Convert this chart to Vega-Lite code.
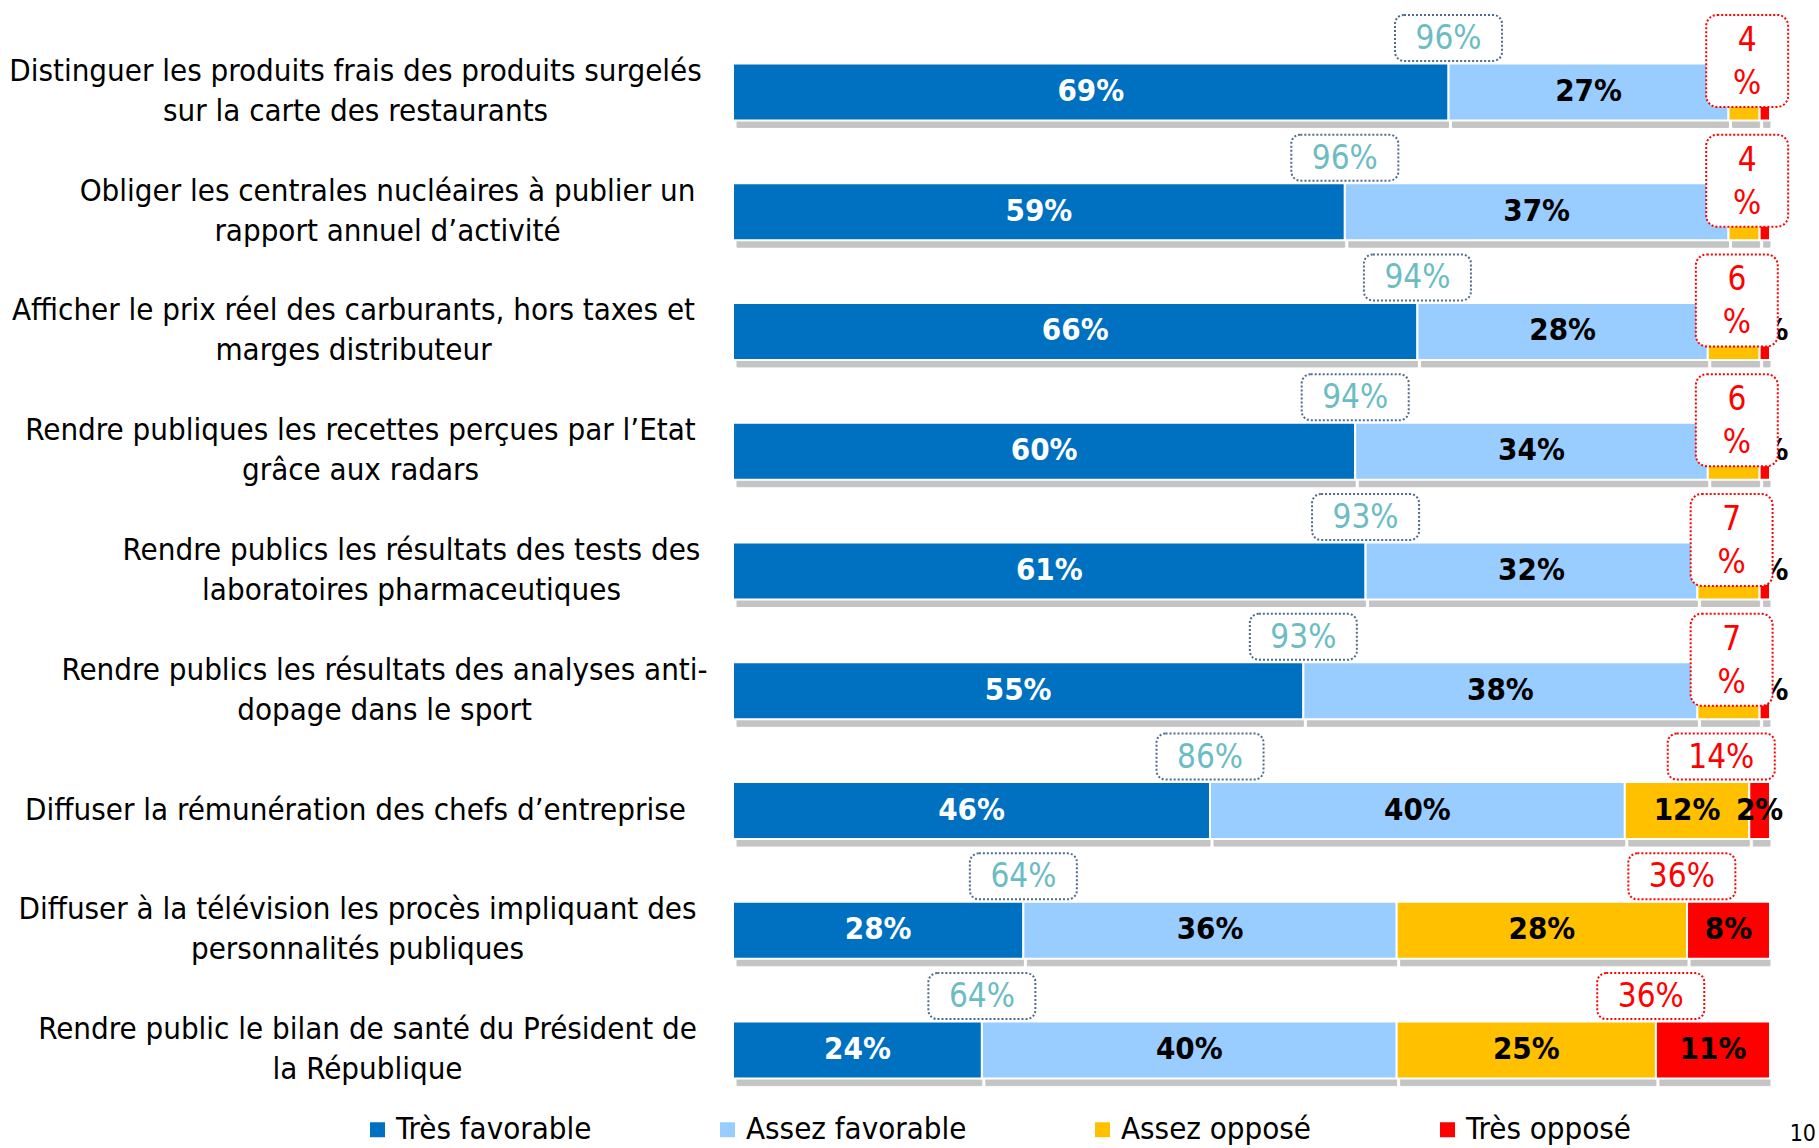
{
  "$schema": "https://vega.github.io/schema/vega-lite/v6.json",
  "autosize": {"type": "none"},
  "width": 1037,
  "height": 1078,
  "padding": {"left": 733, "top": 32, "right": 49, "bottom": 38},
  "background": "white",
  "config": {"view": {"stroke": null}, "font": "DejaVu Sans Condensed"},
  "title": {"text": "10", "orient": "bottom", "anchor": "end", "frame": "group", "fontSize": 23, "fontWeight": "normal", "color": "black", "offset": 2, "dx": 46, "dy": -24, "font": "DejaVu Sans Condensed"},
  "data": {
    "values": [
      {"q": "Distinguer les produits frais des produits surgelés|sur la carte des restaurants", "tf": 69, "af": 27, "ao": 3, "to": 1, "fav": 96, "opp": 4},
      {"q": "Obliger les centrales nucléaires à publier un|rapport annuel d’activité", "tf": 59, "af": 37, "ao": 3, "to": 1, "fav": 96, "opp": 4},
      {"q": "Afficher le prix réel des carburants, hors taxes et|marges distributeur", "tf": 66, "af": 28, "ao": 5, "to": 1, "fav": 94, "opp": 6},
      {"q": "Rendre publiques les recettes perçues par l’Etat|grâce aux radars", "tf": 60, "af": 34, "ao": 5, "to": 1, "fav": 94, "opp": 6},
      {"q": "Rendre publics les résultats des tests des|laboratoires pharmaceutiques", "tf": 61, "af": 32, "ao": 6, "to": 1, "fav": 93, "opp": 7},
      {"q": "Rendre publics les résultats des analyses anti-|dopage dans le sport", "tf": 55, "af": 38, "ao": 6, "to": 1, "fav": 93, "opp": 7},
      {"q": "Diffuser la rémunération des chefs d’entreprise", "tf": 46, "af": 40, "ao": 12, "to": 2, "fav": 86, "opp": 14},
      {"q": "Diffuser à la télévision les procès impliquant des|personnalités publiques", "tf": 28, "af": 36, "ao": 28, "to": 8, "fav": 64, "opp": 36},
      {"q": "Rendre public le bilan de santé du Président de|la République", "tf": 24, "af": 40, "ao": 25, "to": 11, "fav": 64, "opp": 36}
    ]
  },
  "transform": [
    {"fold": ["tf", "af", "ao", "to"], "as": ["key", "val"]},
    {"calculate": "indexof(['tf','af','ao','to'], datum.key)", "as": "ci"},
    {"calculate": "datum.ci == 0 ? 'Très favorable' : datum.ci == 1 ? 'Assez favorable' : datum.ci == 2 ? 'Assez opposé' : 'Très opposé'", "as": "cat"},
    {"stack": "val", "groupby": ["q"], "sort": [{"field": "ci"}], "as": ["x0", "x1"]},
    {"calculate": "(datum.x0 + datum.x1) / 2", "as": "xm"},
    {"calculate": "datum.val + '%'", "as": "lab"}
  ],
  "encoding": {
    "y": {
      "field": "q", "type": "nominal", "sort": null,
      "scale": {"paddingInner": 0.524, "paddingOuter": 0.262},
      "axis": {"title": null, "domain": false, "ticks": false, "grid": false,
        "labelAlign": "center", "labelBaseline": "middle",
        "labelPadding": {"condition": [
          {"test": "indexof(datum.value, 'Distinguer') == 0", "value": 378},
          {"test": "indexof(datum.value, 'Obliger') == 0", "value": 346},
          {"test": "indexof(datum.value, 'Afficher') == 0", "value": 380},
          {"test": "indexof(datum.value, 'Rendre publiques') == 0", "value": 373},
          {"test": "indexof(datum.value, 'des tests') >= 0", "value": 322},
          {"test": "indexof(datum.value, 'anti-') >= 0", "value": 349},
          {"test": "indexof(datum.value, 'chefs') >= 0", "value": 378},
          {"test": "indexof(datum.value, 'télévision') >= 0", "value": 376}
        ], "value": 366},
        "labelOffset": {"condition": {"test": "indexof(datum.value, '|') >= 0", "value": -20}, "value": 0},
        "labelFontSize": 31, "labelFont": "DejaVu Sans Condensed", "labelColor": "black",
        "labelLineHeight": 40, "labelLimit": 0, "labelExpr": "split(datum.label, '|')"}
    }
  },
  "layer": [
    {
      "mark": {"type": "bar", "color": "#C4C4C4", "stroke": "#C4C4C4", "strokeWidth": 1, "xOffset": 4, "yOffset": 7},
      "encoding": {
        "x": {"field": "x0", "type": "quantitative", "scale": {"domain": [0, 100], "nice": false, "zero": true}, "axis": null},
        "x2": {"field": "x1"}
      }
    },
    {
      "mark": {"type": "bar", "stroke": "white", "strokeWidth": 2},
      "encoding": {
        "x": {"field": "x0", "type": "quantitative"},
        "x2": {"field": "x1"},
        "color": {
          "field": "cat", "type": "nominal",
          "scale": {"domain": ["Très favorable", "Assez favorable", "Assez opposé", "Très opposé"], "range": ["#0070C0", "#99CCFF", "#FFC000", "#FF0000"]},
          "legend": {"title": null, "orient": "none", "legendX": -371, "legendY": 1082, "direction": "horizontal", "columns": 4, "columnPadding": 120,
            "symbolType": "square", "symbolSize": 225, "symbolStrokeWidth": 0, "labelFontSize": 31, "labelFont": "DejaVu Sans Condensed", "labelColor": "black", "labelOffset": 3, "labelLimit": 0}
        }
      }
    },
    {
      "mark": {"type": "text", "fontSize": 31, "fontWeight": "bold", "baseline": "middle", "align": "center"},
      "encoding": {
        "x": {"field": "xm", "type": "quantitative"},
        "text": {"field": "lab"},
        "color": {"condition": {"test": "datum.ci == 0", "value": "white"}, "value": "black"}
      }
    },
    {
      "transform": [{"filter": "datum.ci == 0"}, {"calculate": "datum.tf - 5.16", "as": "bl"}, {"calculate": "datum.tf + 5.16", "as": "br"}],
      "mark": {"type": "bar", "height": 46, "yOffset": -54, "fill": "white", "stroke": "#4F6B8C", "strokeWidth": 2, "strokeDash": [2, 2], "cornerRadius": 9},
      "encoding": {"x": {"field": "bl", "type": "quantitative"}, "x2": {"field": "br"}}
    },
    {
      "transform": [{"filter": "datum.ci == 0"}, {"calculate": "datum.fav + '%'", "as": "fl"}],
      "mark": {"type": "text", "fontSize": 33, "yOffset": -53, "baseline": "middle", "align": "center", "color": "#6CBCC4"},
      "encoding": {"x": {"field": "tf", "type": "quantitative"}, "text": {"field": "fl"}}
    },
    {
      "transform": [{"filter": "datum.ci == 0 && datum.opp >= 10"}, {"calculate": "min(datum.tf + datum.af + datum.ao - 0.5, 95.3)", "as": "oc"}, {"calculate": "datum.oc - 5.16", "as": "bl"}, {"calculate": "datum.oc + 5.16", "as": "br"}],
      "mark": {"type": "bar", "height": 46, "yOffset": -54, "fill": "white", "stroke": "#FF0000", "strokeWidth": 2, "strokeDash": [2, 2], "cornerRadius": 9},
      "encoding": {"x": {"field": "bl", "type": "quantitative"}, "x2": {"field": "br"}}
    },
    {
      "transform": [{"filter": "datum.ci == 0 && datum.opp >= 10"}, {"calculate": "min(datum.tf + datum.af + datum.ao - 0.5, 95.3)", "as": "oc"}, {"calculate": "datum.opp + '%'", "as": "ol"}],
      "mark": {"type": "text", "fontSize": 33, "yOffset": -53, "baseline": "middle", "align": "center", "color": "#FF0000"},
      "encoding": {"x": {"field": "oc", "type": "quantitative"}, "text": {"field": "ol"}}
    },
    {
      "transform": [{"filter": "datum.ci == 0 && datum.opp < 10"}, {"calculate": "0.5 * datum.fav + 49.8", "as": "oc"}, {"calculate": "datum.oc - 3.95", "as": "bl"}, {"calculate": "datum.oc + 3.95", "as": "br"}],
      "mark": {"type": "bar", "height": 92, "yOffset": -31, "fill": "white", "stroke": "#FF0000", "strokeWidth": 2, "strokeDash": [2, 2], "cornerRadius": 11},
      "encoding": {"x": {"field": "bl", "type": "quantitative"}, "x2": {"field": "br"}}
    },
    {
      "transform": [{"filter": "datum.ci == 0 && datum.opp < 10"}, {"calculate": "0.5 * datum.fav + 49.8", "as": "oc"}, {"calculate": "datum.opp + '|%'", "as": "ol"}],
      "mark": {"type": "text", "fontSize": 33, "yOffset": -51, "baseline": "middle", "align": "center", "color": "#FF0000", "lineBreak": "|", "lineHeight": 43},
      "encoding": {"x": {"field": "oc", "type": "quantitative"}, "text": {"field": "ol"}}
    }
  ]
}
